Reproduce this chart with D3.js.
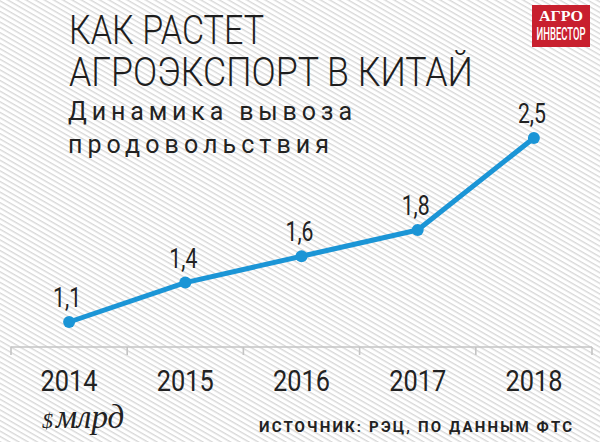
<!DOCTYPE html>
<html><head><meta charset="utf-8">
<script src="https://cdn.jsdelivr.net/npm/d3@7"></script>
<style>
html,body{margin:0;padding:0;background:#fff;}
svg{display:block;}
</style></head>
<body>
<svg id="c" width="600" height="442"></svg>
<script>
const years = ["2014","2015","2016","2017","2018"];
const values = [1.1, 1.4, 1.6, 1.8, 2.5];
const valueLabels = ["1,1","1,4","1,6","1,8","2,5"];
const titleLines = ["КАК РАСТЕТ", "АГРОЭКСПОРТ В КИТАЙ"];
const subtitleLines = ["Динамика вывоза", "продовольствия"];
const unitLabel = "млрд";
const sourceText = "ИСТОЧНИК: РЭЦ, ПО ДАННЫМ ФТС";

const svg = d3.select("#c");
const W = 600, H = 442;

// hatch background
const defs = svg.append("defs");
const pat = defs.append("pattern").attr("id","hatch").attr("patternUnits","userSpaceOnUse")
  .attr("width",20).attr("height",4.6).attr("patternTransform","rotate(30)");
pat.append("rect").attr("width",20).attr("height",4.6).attr("fill","#ffffff");
pat.append("line").attr("x1",0).attr("x2",20).attr("y1",0.7).attr("y2",0.7)
  .attr("stroke","#d6d6d6").attr("stroke-width",1.3);
svg.append("rect").attr("width",W).attr("height",H).attr("fill","url(#hatch)");

const condensed = "Roboto, 'Liberation Sans', sans-serif";

// scales
const x = d3.scaleBand().domain(years).range([11, 592]).padding(0);
const y = d3.scaleLinear().domain([1.1, 2.5]).range([322, 138]);
const cx = d => x(d) + x.bandwidth()/2;

// axis
const axisG = svg.append("g").attr("transform","translate(0,347)");
const axis = d3.axisBottom(x).tickSize(0).tickFormat("");
axisG.call(axis);
axisG.select(".domain").attr("stroke","#c4c4c4").attr("stroke-width",1.6).attr("d","M11,0H592");
axisG.selectAll(".tick").remove();
const bounds = years.map(d => x(d)).concat([x(years[years.length-1]) + x.bandwidth()]);
axisG.selectAll("line.b").data(bounds).join("line").attr("class","b")
  .attr("x1",d=>d).attr("x2",d=>d).attr("y1",0).attr("y2",8)
  .attr("stroke","#c4c4c4").attr("stroke-width",1.6);

// year labels
svg.append("g").selectAll("text").data(years).join("text")
  .attr("x", d => cx(d)).attr("y", 391).attr("text-anchor","middle")
  .attr("font-family", condensed).attr("font-weight",400).attr("font-size", 30).attr("fill","#222")
  .attr("textLength", 57).attr("lengthAdjust","spacingAndGlyphs")
  .text(d => d);

// line
const line = d3.line().x((d,i)=>cx(years[i])).y(d=>y(d));
svg.append("path").datum(values).attr("d", line).attr("fill","none")
  .attr("stroke","#1b95d6").attr("stroke-width",5).attr("stroke-linejoin","round").attr("stroke-linecap","round");
svg.append("g").selectAll("circle").data(values).join("circle")
  .attr("cx",(d,i)=>cx(years[i])).attr("cy",d=>y(d)).attr("r",6).attr("fill","#1b95d6");

// value labels
svg.append("g").selectAll("text").data(values).join("text")
  .attr("x",(d,i)=>cx(years[i]) - 2).attr("y",d=>y(d) - 15).attr("text-anchor","middle")
  .attr("font-family", condensed).attr("font-weight",400).attr("font-size", 27).attr("fill","#222")
  .attr("textLength", 28).attr("lengthAdjust","spacingAndGlyphs")
  .text((d,i)=>valueLabels[i]);

// title
const titleW = [195, 404];
svg.append("g").selectAll("text").data(titleLines).join("text")
  .attr("x",69).attr("y",(d,i)=>44 + i*42)
  .attr("font-family", condensed).attr("font-weight",300).attr("font-size",40).attr("fill","#1e1e1e")
  .attr("textLength",(d,i)=>titleW[i]).attr("lengthAdjust","spacingAndGlyphs")
  .text(d=>d);

// subtitle
const subW = [284, 261];
svg.append("g").selectAll("text").data(subtitleLines).join("text")
  .attr("x",68).attr("y",(d,i)=>120 + i*33)
  .attr("font-family", condensed).attr("font-size",25).attr("fill","#222")
  .attr("textLength",(d,i)=>subW[i]).attr("lengthAdjust","spacing")
  .text(d=>d);

// unit
const u = svg.append("text").attr("x",42).attr("y",428)
  .attr("font-family","'Liberation Serif', 'DejaVu Serif', serif").attr("font-style","italic").attr("fill","#222");
u.append("tspan").attr("font-size",22).text("$");
u.append("tspan").attr("font-size",33).attr("dx",3).text(unitLabel);

// source
svg.append("text").attr("x",259).attr("y",432)
  .attr("font-family", condensed).attr("font-weight",700).attr("font-size",15).attr("fill","#222")
  .attr("textLength",313).attr("lengthAdjust","spacing")
  .text(sourceText);

// logo
const lg = svg.append("g");
lg.append("rect").attr("x",532).attr("y",5).attr("width",58).attr("height",42).attr("fill","#c8202e");
lg.append("text").attr("x",561).attr("y",20.5).attr("text-anchor","middle")
  .attr("font-family","'Liberation Serif', serif").attr("font-weight",700).attr("font-size",15.5).attr("fill","#fff")
  .attr("textLength",44).attr("lengthAdjust","spacingAndGlyphs").text("АГРО");
lg.append("text").attr("x",561).attr("y",40).attr("text-anchor","middle")
  .attr("font-family", condensed).attr("font-weight",500).attr("font-size",18).attr("fill","#fff")
  .attr("textLength",49).attr("lengthAdjust","spacingAndGlyphs").text("ИНВЕСТОР");
</script>
</body></html>
